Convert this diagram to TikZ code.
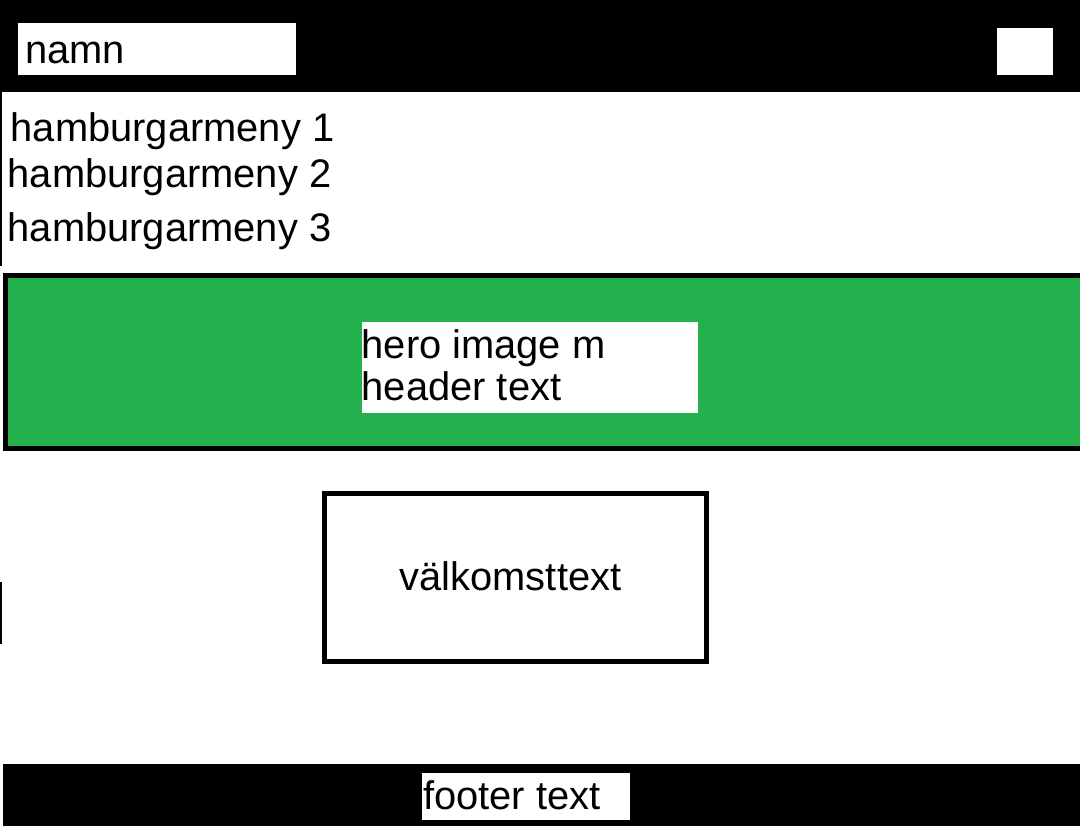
\documentclass[tikz,border=0pt]{standalone}
\usepackage{fontspec}
\setmainfont{Liberation Sans}
\definecolor{herogreen}{RGB}{37,176,78}
\begin{document}
\begin{tikzpicture}[x=0.75pt,y=-0.75pt,
  lbl/.style={inner sep=0pt, anchor=base west, font=\fontsize{29.9}{34}\selectfont},
  whitebox/.style={fill=white, draw=none}]
\useasboundingbox (0,0) rectangle (1080,826);
\fill[white] (0,0) rectangle (1080,826);
% top bar
\fill[black] (0,0) rectangle (1080,92);
\fill[whitebox] (18,23) rectangle (296,75);
\fill[whitebox] (997,28) rectangle (1053,75);
\node[lbl] (namn) at (25,63) {namn};
% left thin lines
\fill[black] (0,92) rectangle (2,266);
\fill[black] (0,582) rectangle (2,644);
% menu
\node[lbl] (m1) at (10.5,141) {hamburgarmeny 1};
\node[lbl] (m2) at (7.5,187) {hamburgarmeny 2};
\node[lbl] (m3) at (7.5,241) {hamburgarmeny 3};
% hero
\draw[fill=herogreen, draw=black, line width=3.4pt] (5.5,275.5) rectangle (1084,448.5);
\fill[whitebox] (362,322) rectangle (698,413);
\node[lbl] (hero1) at (361.5,358) {hero image m};
\node[lbl] (hero2) at (361.5,400) {header text};
% welcome
\draw[black, line width=3.75pt] (324.5,493.5) rectangle (706.5,661.5);
\node[lbl, anchor=base] (valk) at (510.5,590) {välkomsttext};
% footer
\fill[black] (3,764) rectangle (1080,826);
\fill[whitebox] (422,773) rectangle (630,820);
\node[lbl] (footer) at (423,809) {footer text};
\end{tikzpicture}
\end{document}
